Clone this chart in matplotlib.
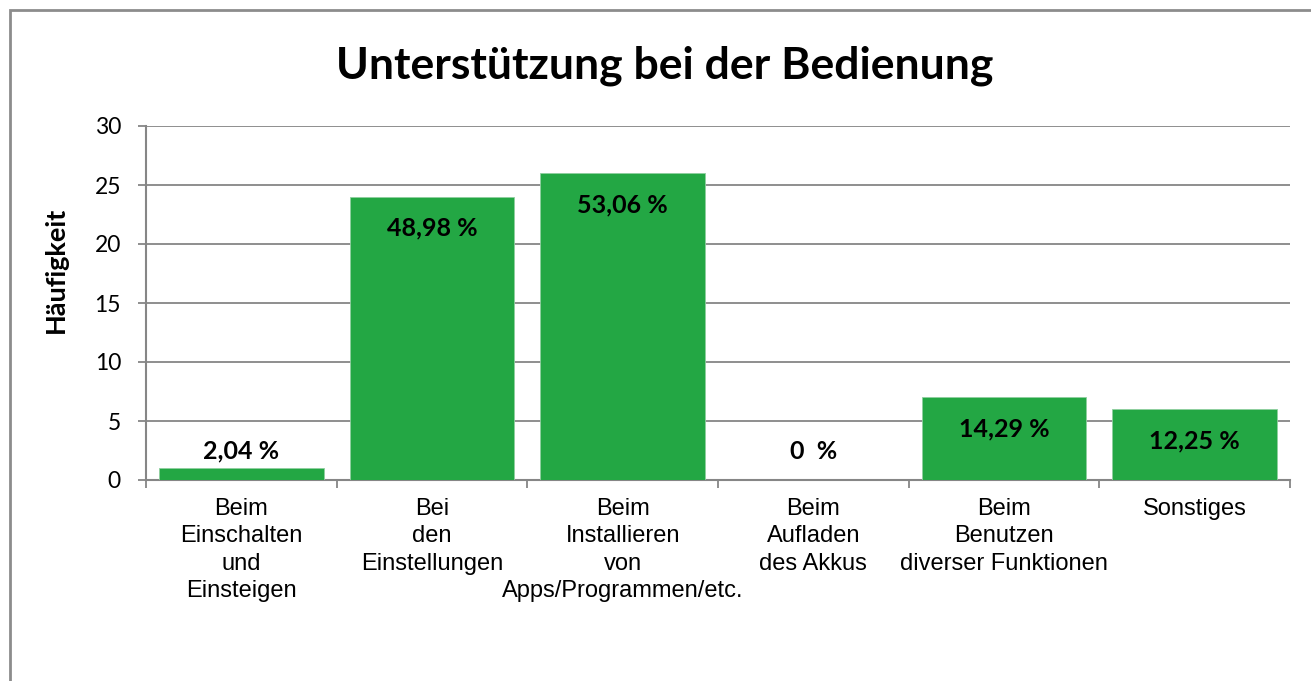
import matplotlib.pyplot as plt
from matplotlib.patches import Rectangle

# data
categories = ['Beim\nEinschalten\nund\nEinsteigen',
              'Bei\nden\nEinstellungen',
              'Beim\nInstallieren\nvon\nApps/Programmen/etc.',
              'Beim\nAufladen\ndes Akkus',
              'Beim\nBenutzen\ndiverser Funktionen',
              'Sonstiges']
counts = [1, 24, 26, 0, 7, 6]
labels = ['2,04 %', '48,98 %', '53,06 %', '0  %', '14,29 %', '12,25 %']
y_ticks = [0, 5, 10, 15, 20, 25, 30]

grey = '#868686'
green = '#23A744'

fig = plt.figure(figsize=(13.11, 6.81), dpi=100)
ax = fig.add_axes([146/1311, 1 - 480/681, (1290 - 146)/1311, (480 - 126)/681])

# frame around the whole chart
fig.patches.append(Rectangle((10/1311, -0.1), 1.2, 1 - 10/681 + 0.1,
                             transform=fig.transFigure, fill=False,
                             edgecolor='#8c8c8c', linewidth=2))

x = list(range(len(counts)))
ax.bar(x, counts, width=0.865, color=green, edgecolor='#8fcf9f', linewidth=0.6, zorder=3)

for i, (v, lab) in enumerate(zip(counts, labels)):
    if v > 3:
        ax.annotate(lab, (i, v), xytext=(0, -22.5), textcoords='offset points',
                    ha='center', va='center', fontsize=18, fontweight='bold',
                    family='Lato', zorder=4)
    else:
        off = 4 if v > 0 else 12
        ax.annotate(lab, (i, v), xytext=(0, off), textcoords='offset points',
                    ha='center', va='bottom', fontsize=18, fontweight='bold',
                    family='Lato', zorder=4)

ax.set_xlim(-0.5, len(counts) - 0.5)
ax.set_ylim(0, 30)
ax.set_yticks(y_ticks)
ax.set_yticklabels([str(t) for t in y_ticks], family='Lato', fontsize=16.5)
ax.yaxis.grid(True, color=grey, linewidth=1.3, zorder=0)
ax.set_axisbelow(True)

# category boundaries as major ticks, names as minor ticks
ax.set_xticks([i - 0.5 for i in range(len(counts) + 1)])
ax.set_xticklabels([])
ax.set_xticks(x, minor=True)
ax.set_xticklabels(categories, minor=True, family='Liberation Sans', fontsize=17,
                   linespacing=1.32, va='top')
ax.tick_params(axis='x', which='minor', length=0, pad=13)
ax.tick_params(axis='x', which='major', length=6, width=1.3, color=grey, direction='out')
ax.tick_params(axis='y', length=6, width=1.3, color=grey, pad=12)

for s in ['top', 'right']:
    ax.spines[s].set_visible(False)
for s in ['left', 'bottom']:
    ax.spines[s].set_color(grey)
    ax.spines[s].set_linewidth(1.5)

fig.text(56/1311, 1 - 270/681, 'Häufigkeit', rotation=90, ha='center', va='center',
         family='Lato', fontweight='bold', fontsize=19.5)
fig.text(665/1311, 1 - 66/681, 'Unterstützung bei der Bedienung', ha='center', va='center',
         family='Lato', fontweight='bold', fontsize=32)

fig.savefig('out.png', dpi=100)
